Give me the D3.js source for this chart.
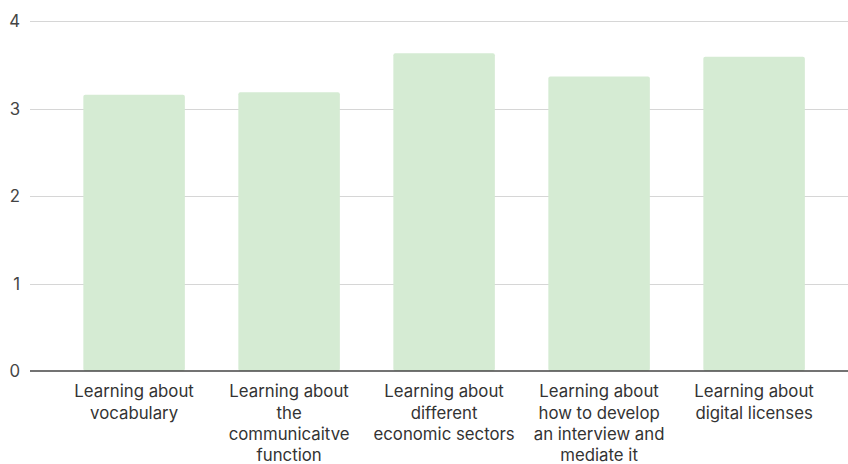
<!DOCTYPE html>
<html><head><meta charset="utf-8">
<script src="https://cdn.jsdelivr.net/npm/d3@7"></script>
<style>html,body{margin:0;padding:0;background:#fff;}svg{display:block;}</style>
</head><body>
<svg id="chart" width="848" height="464"></svg>
<script>
const categories = [
  ["Learning about", "vocabulary"],
  ["Learning about", "the", "communicaitve", "function"],
  ["Learning about", "different", "economic sectors"],
  ["Learning about", "how to develop", "an interview and", "mediate it"],
  ["Learning about", "digital licenses"]
];
const values = [3.16, 3.19, 3.635, 3.37, 3.595];
const yTicks = [0, 1, 2, 3, 4];

const svg = d3.select("#chart");
const font = "Inter, 'Liberation Sans', Arial, sans-serif";
const x = d3.scaleBand().domain(d3.range(categories.length)).range([56.6, 831.6])
  .paddingInner(0.345).paddingOuter(0.1725);
const y = d3.scaleLinear().domain([0, 4]).range([371, 21.4]);

// gridlines
svg.append("g").selectAll("line").data(yTicks.filter(d => d > 0)).join("line")
  .attr("x1", 30).attr("x2", 848)
  .attr("y1", d => Math.round(y(d)) + 0.5).attr("y2", d => Math.round(y(d)) + 0.5)
  .attr("stroke", "#d6d6d6").attr("stroke-width", 1.2);

// y labels
svg.append("g").selectAll("text").data(yTicks).join("text")
  .attr("x", 20).attr("y", d => y(d)).attr("dy", "0.36em")
  .attr("text-anchor", "end").attr("font-family", font).attr("font-size", 16.8)
  .attr("fill", "#444").text(d => d);

// bars
svg.append("g").selectAll("rect").data(values).join("rect")
  .attr("x", (d, i) => x(i)).attr("width", x.bandwidth())
  .attr("y", d => y(d)).attr("height", d => y(0) - y(d))
  .attr("rx", 2).attr("fill", "#d5ebd3");

// baseline
svg.append("line").attr("x1", 30).attr("x2", 848)
  .attr("y1", y(0)).attr("y2", y(0))
  .attr("stroke", "#444").attr("stroke-width", 1.5);

// x labels
const lab = svg.append("g").selectAll("text").data(categories).join("text")
  .attr("text-anchor", "middle").attr("font-family", font).attr("font-size", 16.8)
  .attr("fill", "#333");
lab.each(function(lines, i) {
  d3.select(this).selectAll("tspan").data(lines).join("tspan")
    .attr("x", x(i) + x.bandwidth() / 2)
    .attr("y", (d, j) => 397.3 + j * 21.3)
    .text(d => d);
});
</script>
</body></html>
